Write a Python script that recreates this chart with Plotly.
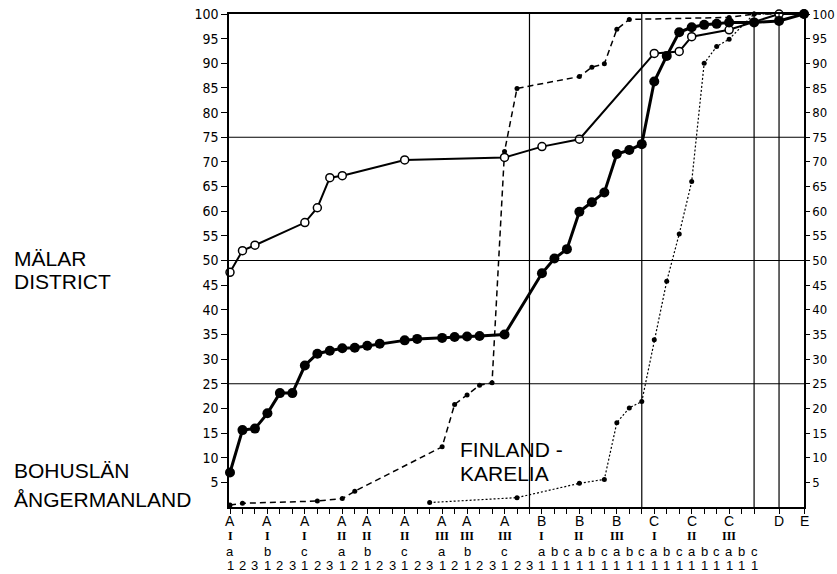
import plotly.graph_objects as go

W, H = 837, 574
ML, MR, MT, MB = 229, 33, 14, 67

# x categories (type, group, sub-group, number)
categories = [
    "A I a 1", "A I a 2", "A I a 3", "A I b 1", "A I b 2", "A I b 3", "A I c 1", "A I c 2", "A I c 3",
    "A II a 1", "A II a 2", "A II b 1", "A II b 2", "A II b 3", "A II c 1", "A II c 2", "A II c 3",
    "A III a 1", "A III a 2", "A III b 1", "A III b 2", "A III b 3", "A III c 1", "A III c 2", "A III c 3",
    "B I a 1", "B I b 1", "B I c 1", "B II a 1", "B II b 1", "B II c 1", "B III a 1", "B III b 1", "B III c 1",
    "C I a 1", "C I b 1", "C I c 1", "C II a 1", "C II b 1", "C II c 1", "C III a 1", "C III b 1", "C III c 1",
    "D", "E",
]

malar_cats = ["A I a 1", "A I a 2", "A I a 3", "A I c 1", "A I c 2", "A I c 3", "A II a 1", "A II c 1",
              "A III c 1", "B I a 1", "B II a 1", "C I a 1", "C I c 1", "C II a 1", "C III a 1", "D", "E"]
malar_vals = [47.6, 52.0, 53.1, 57.7, 60.7, 66.8, 67.2, 70.4, 70.9, 73.1, 74.6, 92.0, 92.4, 95.4, 96.8, 100, 100]

bohus_cats = ["A I a 1", "A I a 2", "A I a 3", "A I b 1", "A I b 2", "A I b 3", "A I c 1", "A I c 2", "A I c 3",
              "A II a 1", "A II a 2", "A II b 1", "A II b 2", "A II c 1", "A II c 2",
              "A III a 1", "A III a 2", "A III b 1", "A III b 2", "A III c 1",
              "B I a 1", "B I b 1", "B I c 1", "B II a 1", "B II b 1", "B II c 1", "B III a 1", "B III b 1", "B III c 1",
              "C I a 1", "C I b 1", "C I c 1", "C II a 1", "C II b 1", "C II c 1", "C III a 1", "C III c 1", "D", "E"]
bohus_vals = [7.0, 15.6, 15.9, 19.0, 23.1, 23.1, 28.7, 31.1, 31.7,
              32.2, 32.3, 32.7, 33.1, 33.8, 34.1,
              34.3, 34.5, 34.6, 34.7, 35.0,
              47.4, 50.4, 52.3, 59.9, 61.8, 63.8, 71.6, 72.4, 73.6,
              86.3, 91.5, 96.3, 97.3, 97.8, 98.0, 98.3, 98.3, 98.6, 100]

anger_cats = ["A I a 1", "A I a 2", "A I c 2", "A II a 1", "A II a 2", "A III a 1", "A III a 2", "A III b 1",
              "A III b 2", "A III b 3", "A III c 1", "A III c 2", "B II a 1", "B II b 1", "B II c 1",
              "B III a 1", "B III b 1", "C III a 1", "C III c 1", "E"]
anger_vals = [0.4, 0.75, 1.2, 1.7, 3.2, 12.2, 20.8, 22.7, 24.7, 25.2, 72.1, 84.9, 87.3, 89.2, 89.9,
              96.9, 98.9, 99.3, 100, 100]

finl_cats = ["A II c 3", "A III c 2", "B II a 1", "B II c 1", "B III a 1", "B III b 1", "B III c 1",
             "C I a 1", "C I b 1", "C I c 1", "C II a 1", "C II b 1", "C II c 1", "C III a 1", "C III c 1", "E"]
finl_vals = [0.9, 1.9, 4.8, 5.6, 17.1, 20.1, 21.4, 33.9, 45.8, 55.4, 66.0, 90.0, 93.4, 94.9, 100, 100]

y_ticks = list(range(5, 101, 5))
h_lines = [25, 50, 75]

# ---- scale: category -> position (D and E set apart by one empty slot) ----
def position(code):
    i = categories.index(code)
    extra = 0
    if code == "D":
        extra = 1
    if code == "E":
        extra = 2
    return i + extra

def xs(cats):
    return [position(c) for c in cats]

PW = W - ML - MR
PH = H - MT - MB
def px_x(px):
    return (px - ML) / PW
def px_y(py):
    return (H - MB - py) / PH

NARROW = "Liberation Sans Narrow, DejaVu Sans Condensed, Liberation Sans, sans-serif"
SANS = "Liberation Sans, Arial, sans-serif"
SERIF = "Liberation Serif, DejaVu Serif, serif"

fig = go.Figure()

fig.add_trace(go.Scatter(x=xs(finl_cats), y=finl_vals, mode="lines+markers",
                         line=dict(color="black", width=1.2, dash="2px,2px"),
                         marker=dict(size=5, color="black"), cliponaxis=False, showlegend=False))
fig.add_trace(go.Scatter(x=xs(anger_cats), y=anger_vals, mode="lines+markers",
                         line=dict(color="black", width=1.5, dash="6px,4px"),
                         marker=dict(size=5, color="black"), cliponaxis=False, showlegend=False))
fig.add_trace(go.Scatter(x=xs(malar_cats), y=malar_vals, mode="lines+markers",
                         line=dict(color="black", width=2),
                         marker=dict(size=8, color="white", line=dict(color="black", width=1.5)),
                         cliponaxis=False, showlegend=False))
fig.add_trace(go.Scatter(x=xs(bohus_cats), y=bohus_vals, mode="lines+markers",
                         line=dict(color="black", width=3),
                         marker=dict(size=10, color="black"), cliponaxis=False, showlegend=False))
# carrier for the right-hand axis
fig.add_trace(go.Scatter(x=[0], y=[50], yaxis="y2", mode="markers", marker=dict(opacity=0),
                         hoverinfo="skip", showlegend=False))

x_min, x_max = -0.08, position("E")

shapes = []
for v in h_lines:
    shapes.append(dict(type="line", xref="paper", yref="y", x0=0, x1=1, y0=v, y1=v,
                       line=dict(color="black", width=1.2)))
# vertical lines at the end of each main group
for letter in ["A", "B", "C", "D"]:
    last = [c for c in categories if c.split()[0] == letter][-1]
    p = position(last)
    shapes.append(dict(type="line", xref="x", yref="y", x0=p, x1=p, y0=0, y1=100,
                       line=dict(color="black", width=1.2)))

# x-axis label rows
annotations = []
row_y = [521, 536, 551, 565]

def row_text(p, row, text, family, size):
    annotations.append(dict(x=p, y=px_y(row_y[row]), xref="x", yref="paper", text=text,
                            xanchor="center", yanchor="middle", showarrow=False, borderpad=0,
                            font=dict(family=family, size=size, color="black")))

seen_sub = set()
seen_grp = set()
for c in categories:
    parts = c.split()
    p = position(c)
    if len(parts) == 1:
        row_text(p, 0, parts[0], SANS, 14)
        continue
    letter, roman, sub, num = parts
    key_sub = (letter, roman, sub)
    key_grp = (letter, roman) if letter != "A" else key_sub
    if key_grp not in seen_grp:
        seen_grp.add(key_grp)
        row_text(p, 0, letter, SANS, 14)
        row_text(p, 1, "<b>" + roman + "</b>", SERIF, 12)
    if key_sub not in seen_sub:
        seen_sub.add(key_sub)
        row_text(p, 2, sub, SANS, 13)
    row_text(p, 3, num, SANS, 13)

# region labels
def label(text, px, py, size=21):
    annotations.append(dict(x=px_x(px), y=px_y(py), xref="paper", yref="paper", text=text,
                            xanchor="left", yanchor="middle", showarrow=False,
                            font=dict(family=SANS, size=size, color="black")))

label("MÄLAR", 12, 258)
label("DISTRICT", 12, 281)
label("BOHUSLÄN", 12, 470)
label("ÅNGERMANLAND", 12, 499)
label("FINLAND -", 458, 449)
label("KARELIA", 458, 473)

axis_font = dict(family=NARROW, size=14, color="black")
axis_font_r = dict(family=NARROW, size=13, color="black")
fig.update_layout(
    width=W, height=H,
    margin=dict(l=ML, r=MR, t=MT, b=MB, pad=0, autoexpand=False),
    paper_bgcolor="white", plot_bgcolor="white",
    xaxis=dict(range=[x_min, x_max], showgrid=False, zeroline=False, showline=True, automargin=False,
               linecolor="black", linewidth=1.5, mirror=True,
               ticks="outside", ticklen=5, tickwidth=1.2, tickcolor="black",
               tickvals=[position(c) for c in categories], showticklabels=False),
    yaxis=dict(range=[0, 100], showgrid=False, zeroline=False, showline=True, automargin=False,
               linecolor="black", linewidth=1.5, ticks="outside", ticklen=6, tickwidth=1.2,
               tickcolor="black", tickvals=y_ticks, tickfont=axis_font),
    yaxis2=dict(range=[0, 100], overlaying="y", side="right", showgrid=False, zeroline=False,
                automargin=False,
                showline=True, linecolor="black", linewidth=1.5, ticks="outside", ticklen=4,
                tickwidth=1.2, tickcolor="black", tickvals=y_ticks, tickfont=axis_font_r),
    shapes=shapes,
    annotations=annotations,
)

fig.write_html("out.html", config={"displayModeBar": False},
               post_script="document.body.style.margin='0';document.body.style.padding='0';")
